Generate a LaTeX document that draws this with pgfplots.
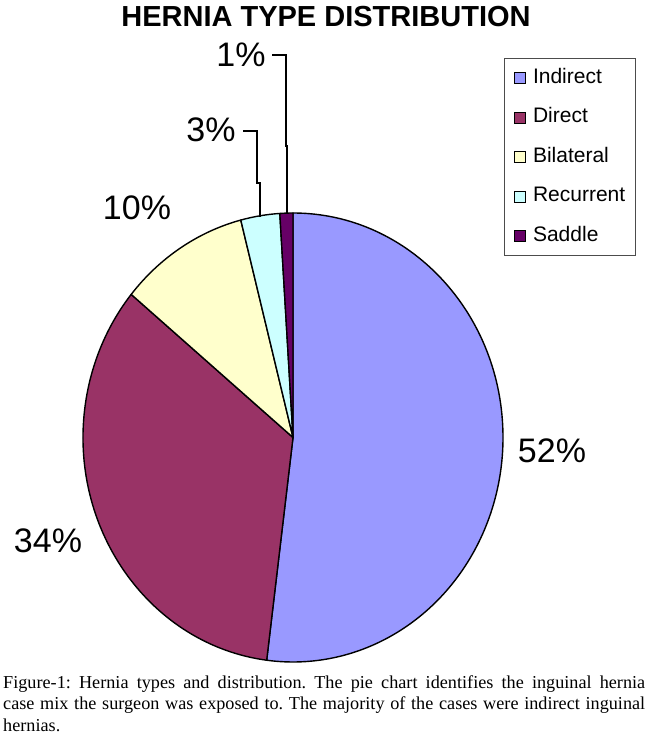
\documentclass[border=0pt]{standalone}
\usepackage{pgfplots}
\pgfplotsset{compat=1.18}
\usepackage{fontspec}
\setmainfont{Liberation Sans}
\newfontfamily\capfont{Liberation Serif}
\definecolor{cIndirect}{HTML}{9999FF}
\definecolor{cDirect}{HTML}{993366}
\definecolor{cBilateral}{HTML}{FFFFCC}
\definecolor{cRecurrent}{HTML}{CCFFFF}
\definecolor{cSaddle}{HTML}{660066}
\def\cx{293}\def\cy{306.5}
\begin{document}
\begin{tikzpicture}
\begin{axis}[
  scale only axis, width=650pt, height=744pt,
  xmin=0, xmax=650, ymin=0, ymax=744,
  hide axis, clip=false,
  legend style={at={(axis cs:504,686)}, anchor=north west,
    draw=black!70, line width=0.9pt, inner sep=10pt,
    font=\fontsize{21}{24}\selectfont, row sep=20.5pt, column sep=7pt,
    cells={anchor=west}, nodes={inner sep=0pt, text height=15pt, text depth=4pt}},
  legend cell align=left,
  sq legend/.style={legend image code/.code={\draw[##1, line width=0.6pt, draw=black] (0pt,-5.5pt) rectangle (11pt,5.5pt);}},
]
\path (axis cs:0,0) (axis cs:650,744);
% pie: centre (293,306.5), radii 210 x 224.5; slices clockwise from top
\gdef\sa{90}
\foreach \v/\col in {52/cIndirect,34/cDirect,10/cBilateral,3/cRecurrent,1/cSaddle}{
  \pgfmathsetmacro{\sb}{\sa-3.6*\v}
  \edef\temp{\noexpand\filldraw[fill=\col, draw=black, line width=1.4pt, line join=round]
    (axis cs:\cx,\cy) -- (axis cs:{\cx+210*cos(\sa)},{\cy+224.5*sin(\sa)})
    arc[start angle=\sa, end angle=\sb, x radius=210pt, y radius=224.5pt] -- cycle;}
  \temp
  \global\let\sa\sb
}
\addlegendimage{sq legend, fill=cIndirect}
\addlegendentry{Indirect}
\addlegendimage{sq legend, fill=cDirect}
\addlegendentry{Direct}
\addlegendimage{sq legend, fill=cBilateral}
\addlegendentry{Bilateral}
\addlegendimage{sq legend, fill=cRecurrent}
\addlegendentry{Recurrent}
\addlegendimage{sq legend, fill=cSaddle}
\addlegendentry{Saddle}
% percentage labels
\node[anchor=base, font=\fontsize{34}{36}\selectfont] at (axis cs:552,281) {52\%};
\node[anchor=base, font=\fontsize{34}{36}\selectfont] at (axis cs:48,191) {34\%};
\node[anchor=base, font=\fontsize{34}{36}\selectfont] at (axis cs:137,524) {10\%};
\node[anchor=base, font=\fontsize{34}{36}\selectfont] at (axis cs:211,602) {3\%};
\node[anchor=base, font=\fontsize{34}{36}\selectfont] at (axis cs:241,677) {1\%};
% leader lines
\draw[line width=1.4pt] (axis cs:272,689) -- (axis cs:286,689) -- (axis cs:286,598) -- (axis cs:287,598) -- (axis cs:287,531);
\draw[line width=1.4pt] (axis cs:243,613) -- (axis cs:257,613) -- (axis cs:257,561) -- (axis cs:260,561) -- (axis cs:260,527);
% title
\node[anchor=base, font=\bfseries\fontsize{29}{32}\selectfont] at (axis cs:326,717) {HERNIA TYPE DISTRIBUTION};
% caption
\node[anchor=north west, inner sep=0pt, text width=642pt, align=justify,
  font=\capfont\fontsize{18.2}{21.5}\selectfont\frenchspacing] at (axis cs:3,69)
  {Figure-1: Hernia types and distribution. The pie chart identifies the inguinal hernia\linebreak
   case mix the surgeon was exposed to. The majority of the cases were indirect inguinal\linebreak
   hernias.};
\end{axis}
\end{tikzpicture}
\end{document}
